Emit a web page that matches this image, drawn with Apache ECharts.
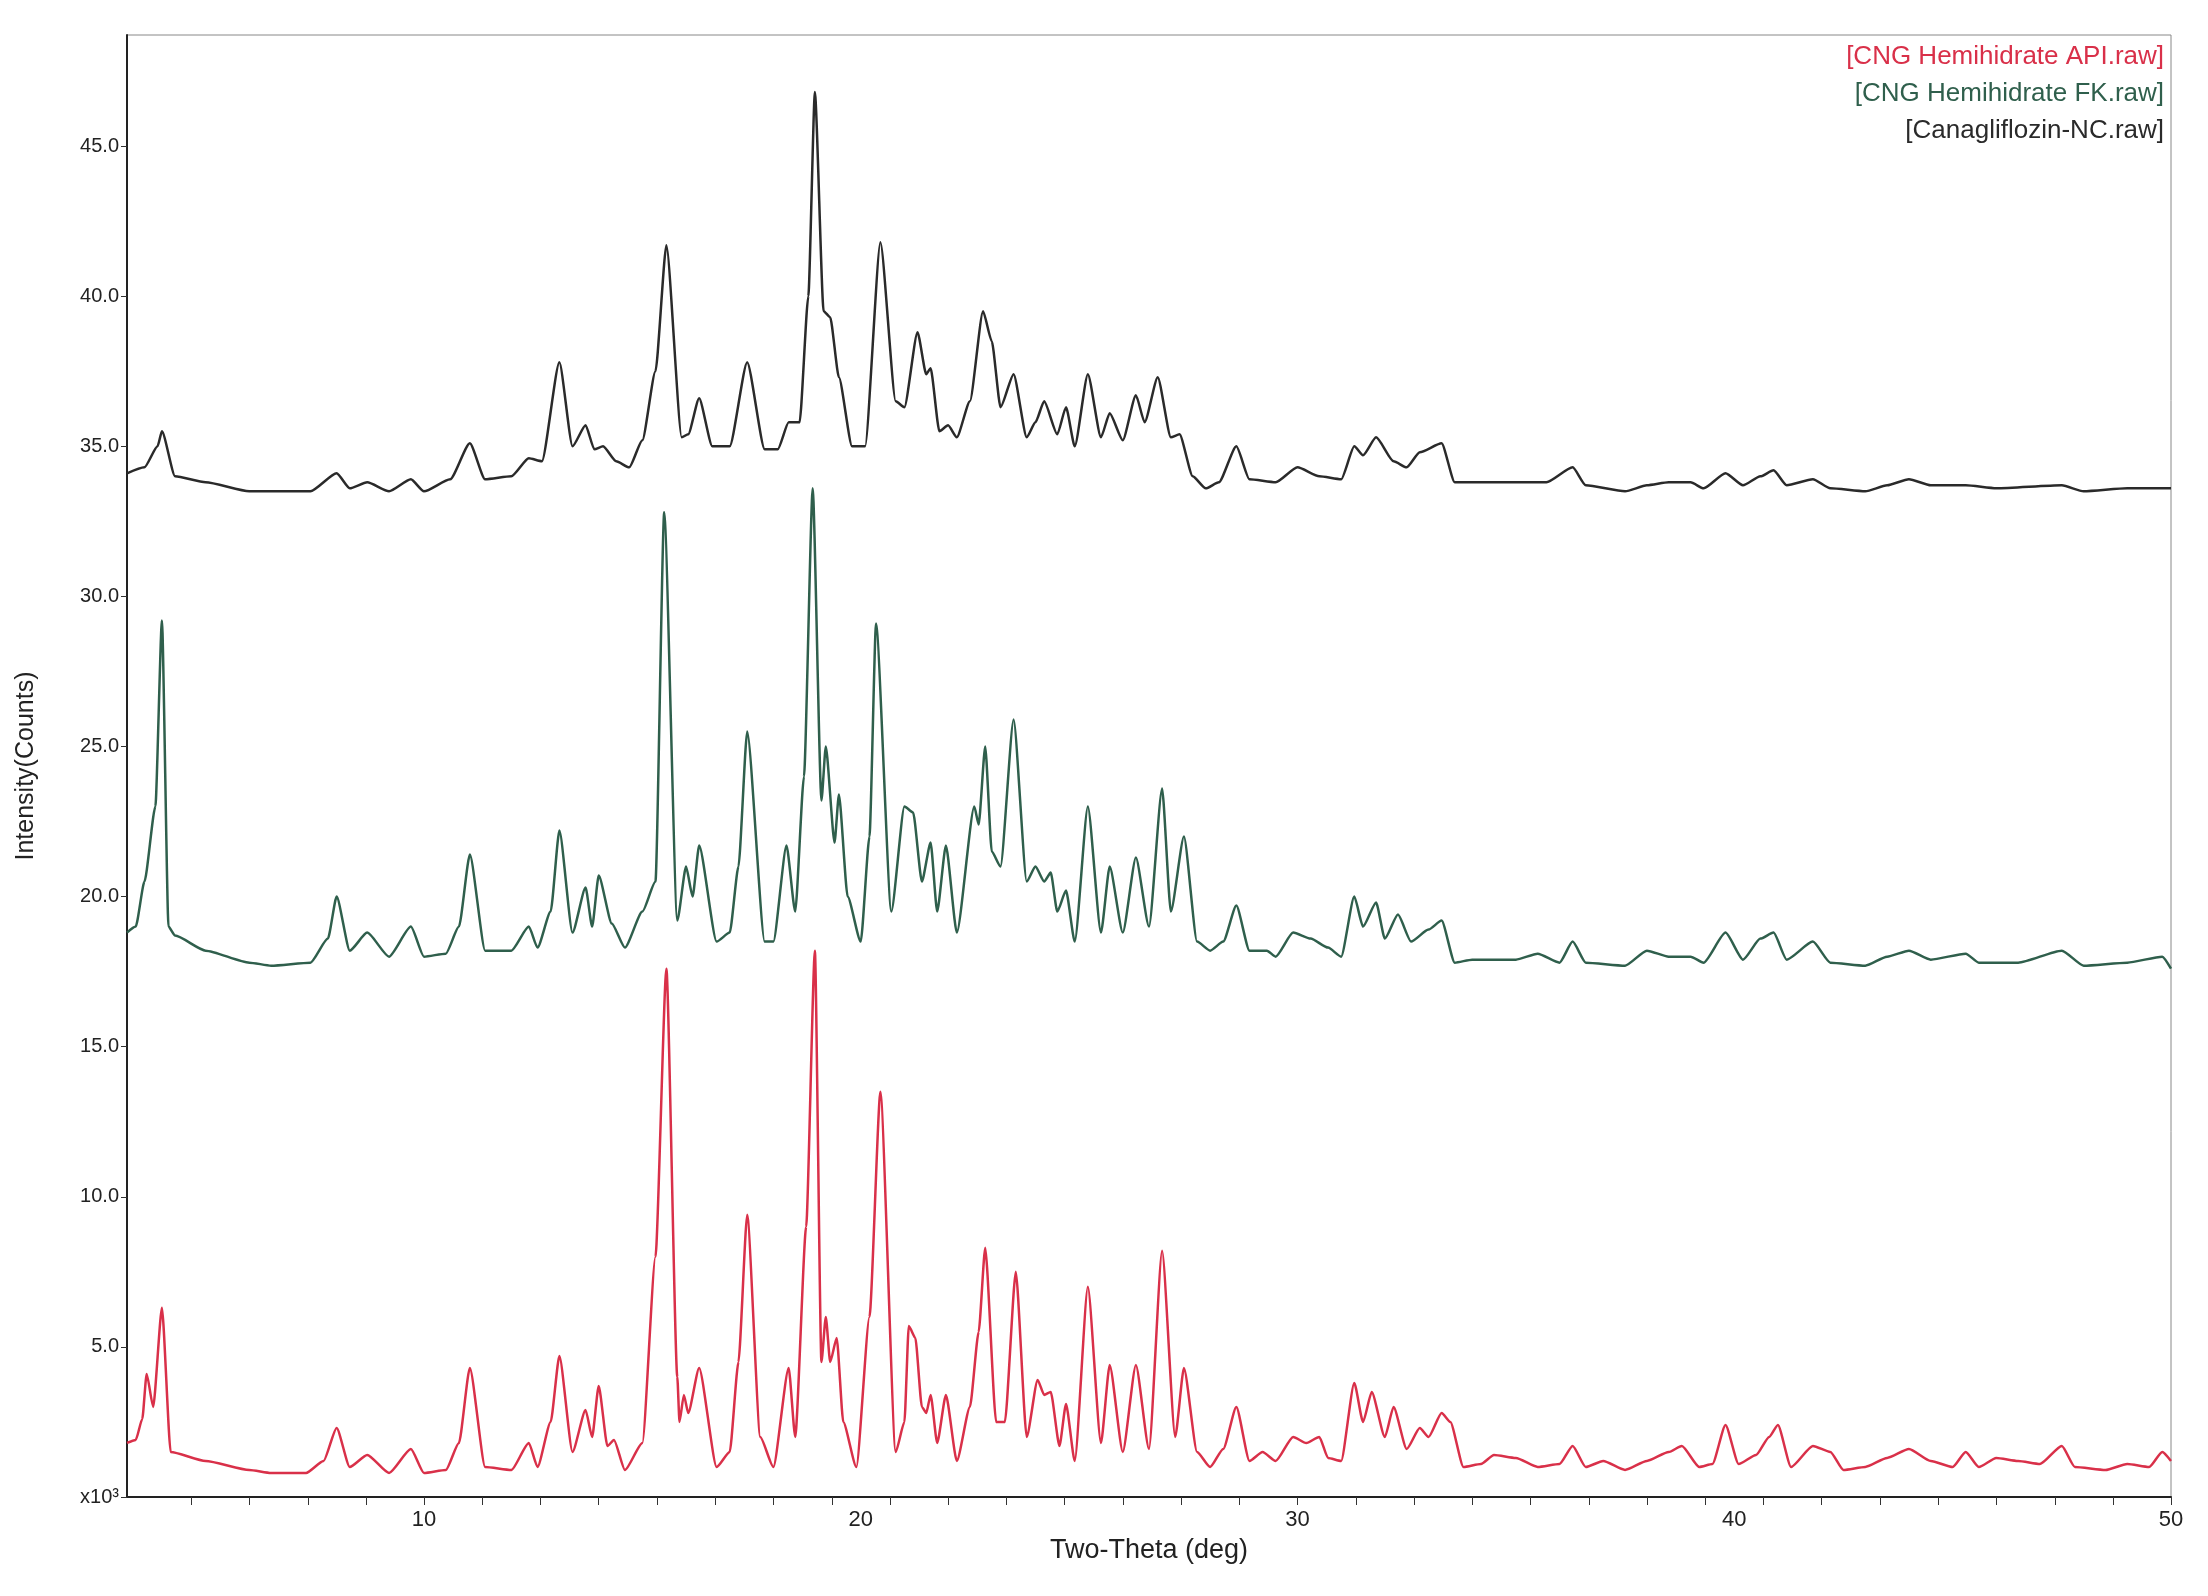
<!DOCTYPE html>
<html><head><meta charset="utf-8">
<script src="https://cdn.jsdelivr.net/npm/echarts@6/dist/echarts.min.js"></script>
<style>html,body{margin:0;padding:0;background:#fff}#c{width:2208px;height:1596px}</style>
</head><body><div id="c"></div>
<script>
const seriesNames = ['[CNG Hemihidrate API.raw]','[CNG Hemihidrate FK.raw]','[Canagliflozin-NC.raw]'];
const xTickLabels = [10,20,30,40,50];
const yTickLabels = [5,10,15,20,25,30,35,40,45];
const apiData = [[3.2,1.8],[3.4,1.9],[3.55,2.6],[3.65,4.1],[3.8,3.0],[4.0,6.3],[4.2,1.5],[5.0,1.2],[6.0,0.9],[6.5,0.8],[7.3,0.8],[7.7,1.2],[8.0,2.3],[8.3,1.0],[8.7,1.4],[9.2,0.8],[9.7,1.6],[10.0,0.8],[10.5,0.9],[10.8,1.8],[11.05,4.3],[11.4,1.0],[12.0,0.9],[12.4,1.8],[12.6,1.0],[12.9,2.5],[13.1,4.7],[13.4,1.5],[13.7,2.9],[13.85,2.0],[14.0,3.7],[14.2,1.7],[14.35,1.9],[14.6,0.9],[15.0,1.8],[15.3,8.0],[15.55,17.6],[15.8,4.0],[15.85,2.5],[15.95,3.4],[16.05,2.8],[16.3,4.3],[16.7,1.0],[17.0,1.5],[17.2,4.5],[17.4,9.4],[17.7,2.0],[18.0,1.0],[18.35,4.3],[18.5,2.0],[18.75,9.0],[18.95,18.2],[19.1,4.5],[19.2,6.0],[19.3,4.5],[19.45,5.3],[19.6,2.5],[19.9,1.0],[20.2,6.0],[20.45,13.5],[20.8,1.5],[21.0,2.5],[21.1,5.7],[21.25,5.3],[21.4,3.0],[21.5,2.8],[21.6,3.4],[21.75,1.8],[21.95,3.4],[22.2,1.2],[22.5,3.0],[22.7,5.5],[22.85,8.3],[23.1,2.5],[23.3,2.5],[23.55,7.5],[23.8,2.0],[24.05,3.9],[24.2,3.4],[24.35,3.5],[24.55,1.7],[24.7,3.1],[24.9,1.2],[25.2,7.0],[25.5,1.8],[25.7,4.4],[26.0,1.5],[26.3,4.4],[26.6,1.6],[26.9,8.2],[27.2,2.0],[27.4,4.3],[27.7,1.5],[28.0,1.0],[28.3,1.6],[28.6,3.0],[28.9,1.2],[29.2,1.5],[29.5,1.2],[29.9,2.0],[30.2,1.8],[30.5,2.0],[30.7,1.3],[31.0,1.2],[31.3,3.8],[31.5,2.5],[31.7,3.5],[32.0,2.0],[32.2,3.0],[32.5,1.6],[32.8,2.3],[33.0,2.0],[33.3,2.8],[33.5,2.5],[33.8,1.0],[34.2,1.1],[34.5,1.4],[35.0,1.3],[35.5,1.0],[36.0,1.1],[36.3,1.7],[36.6,1.0],[37.0,1.2],[37.5,0.9],[38.0,1.2],[38.5,1.5],[38.8,1.7],[39.2,1.0],[39.5,1.1],[39.8,2.4],[40.1,1.1],[40.5,1.4],[40.8,2.0],[41.0,2.4],[41.3,1.0],[41.8,1.7],[42.2,1.5],[42.5,0.9],[43.0,1.0],[43.5,1.3],[44.0,1.6],[44.5,1.2],[45.0,1.0],[45.3,1.5],[45.6,1.0],[46.0,1.3],[46.5,1.2],[47.0,1.1],[47.5,1.7],[47.8,1.0],[48.5,0.9],[49.0,1.1],[49.5,1.0],[49.8,1.5],[50,1.2]];
const fkData = [[3.2,18.8],[3.4,19.0],[3.6,20.5],[3.85,23.0],[4.0,29.2],[4.15,19.0],[4.3,18.7],[5.0,18.2],[6.0,17.8],[6.5,17.7],[7.4,17.8],[7.8,18.6],[8.0,20.0],[8.3,18.2],[8.7,18.8],[9.2,18.0],[9.7,19.0],[10.0,18.0],[10.5,18.1],[10.8,19.0],[11.05,21.4],[11.4,18.2],[12.0,18.2],[12.4,19.0],[12.6,18.3],[12.9,19.5],[13.1,22.2],[13.4,18.8],[13.7,20.3],[13.85,19.0],[14.0,20.7],[14.3,19.1],[14.6,18.3],[15.0,19.5],[15.3,20.5],[15.5,32.8],[15.8,19.2],[16.0,21.0],[16.15,20.0],[16.3,21.7],[16.7,18.5],[17.0,18.8],[17.2,21.0],[17.4,25.5],[17.8,18.5],[18.0,18.5],[18.3,21.7],[18.5,19.5],[18.7,24.0],[18.9,33.6],[19.1,23.2],[19.2,25.0],[19.4,21.8],[19.5,23.4],[19.7,20.0],[20.0,18.5],[20.2,22.0],[20.35,29.1],[20.7,19.5],[21.0,23.0],[21.2,22.8],[21.4,20.5],[21.6,21.8],[21.75,19.5],[21.95,21.7],[22.2,18.8],[22.6,23.0],[22.7,22.4],[22.85,25.0],[23.0,21.5],[23.2,21.0],[23.5,25.9],[23.8,20.5],[24.0,21.0],[24.2,20.5],[24.35,20.8],[24.5,19.5],[24.7,20.2],[24.9,18.5],[25.2,23.0],[25.5,18.8],[25.7,21.0],[26.0,18.8],[26.3,21.3],[26.6,19.0],[26.9,23.6],[27.1,19.5],[27.4,22.0],[27.7,18.5],[28.0,18.2],[28.3,18.5],[28.6,19.7],[28.9,18.2],[29.3,18.2],[29.5,18.0],[29.9,18.8],[30.3,18.6],[30.7,18.3],[31.0,18.0],[31.3,20.0],[31.5,19.0],[31.8,19.8],[32.0,18.6],[32.3,19.4],[32.6,18.5],[33.0,18.9],[33.3,19.2],[33.6,17.8],[34.0,17.9],[35.0,17.9],[35.5,18.1],[36.0,17.8],[36.3,18.5],[36.6,17.8],[37.5,17.7],[38.0,18.2],[38.5,18.0],[39.0,18.0],[39.3,17.8],[39.8,18.8],[40.2,17.9],[40.6,18.6],[40.9,18.8],[41.2,17.9],[41.8,18.5],[42.2,17.8],[43.0,17.7],[43.5,18.0],[44.0,18.2],[44.5,17.9],[45.3,18.1],[45.6,17.8],[46.5,17.8],[47.5,18.2],[48,17.7],[49,17.8],[49.8,18.0],[50,17.6]];
const ncData = [[3.2,34.1],[3.6,34.3],[3.9,35.0],[4.0,35.5],[4.3,34.0],[5.0,33.8],[6.0,33.5],[7.4,33.5],[8.0,34.1],[8.3,33.6],[8.7,33.8],[9.2,33.5],[9.7,33.9],[10.0,33.5],[10.6,33.9],[11.05,35.1],[11.4,33.9],[12.0,34.0],[12.4,34.6],[12.7,34.5],[13.1,37.8],[13.4,35.0],[13.7,35.7],[13.9,34.9],[14.1,35.0],[14.4,34.5],[14.7,34.3],[15.0,35.2],[15.3,37.5],[15.55,41.7],[15.9,35.3],[16.05,35.4],[16.3,36.6],[16.6,35.0],[17.0,35.0],[17.4,37.8],[17.8,34.9],[18.1,34.9],[18.35,35.8],[18.6,35.8],[18.8,40.0],[18.95,46.8],[19.15,39.5],[19.3,39.3],[19.5,37.3],[19.8,35.0],[20.1,35.0],[20.45,41.8],[20.8,36.5],[21.0,36.3],[21.3,38.8],[21.5,37.4],[21.6,37.6],[21.8,35.5],[22.0,35.7],[22.2,35.3],[22.5,36.5],[22.8,39.5],[23.0,38.5],[23.2,36.3],[23.5,37.4],[23.8,35.3],[24.0,35.8],[24.2,36.5],[24.5,35.4],[24.7,36.3],[24.9,35.0],[25.2,37.4],[25.5,35.3],[25.7,36.1],[26.0,35.2],[26.3,36.7],[26.5,35.8],[26.8,37.3],[27.1,35.3],[27.3,35.4],[27.6,34.0],[27.9,33.6],[28.2,33.8],[28.6,35.0],[28.9,33.9],[29.5,33.8],[30.0,34.3],[30.5,34.0],[31.0,33.9],[31.3,35.0],[31.5,34.7],[31.8,35.3],[32.2,34.5],[32.5,34.3],[32.8,34.8],[33.3,35.1],[33.6,33.8],[34.0,33.8],[35.0,33.8],[35.7,33.8],[36.3,34.3],[36.6,33.7],[37.5,33.5],[38.0,33.7],[38.5,33.8],[39.0,33.8],[39.3,33.6],[39.8,34.1],[40.2,33.7],[40.6,34.0],[40.9,34.2],[41.2,33.7],[41.8,33.9],[42.2,33.6],[43.0,33.5],[43.5,33.7],[44.0,33.9],[44.5,33.7],[45.3,33.7],[46.0,33.6],[47.5,33.7],[48,33.5],[49,33.6],[50,33.6]];
const colors = ['#d93049','#2f5f4c','#2a2a2a'];
const minorTicks = [];
for (let v = 4.67; v <= 50.01; v += 10/7.5) minorTicks.push(+v.toFixed(2));

const chart = echarts.init(document.getElementById('c'));
const font = 'Liberation Sans, Arial, sans-serif';
const line = (i, d) => ({name:seriesNames[i],type:'line',data:d,showSymbol:false,smooth:0.2,smoothMonotone:'x',
  lineStyle:{color:colors[i],width:2.5}});
chart.setOption({
  animation:false,
  backgroundColor:'#fff',
  grid:{left:127,right:37,top:35,bottom:99,show:true,borderColor:'#888',borderWidth:1},
  xAxis:{type:'value',min:3.2,max:50,
    name:'Two-Theta (deg)',nameLocation:'middle',nameGap:40,
    nameTextStyle:{fontFamily:font,fontSize:27,color:'#222'},
    axisLine:{lineStyle:{color:'#222',width:2}},
    axisTick:{customValues:minorTicks,length:8,lineStyle:{color:'#333'}},
    axisLabel:{customValues:xTickLabels,fontFamily:font,fontSize:22,color:'#222',margin:12},
    splitLine:{show:false}},
  yAxis:{type:'value',min:0,max:48.7,interval:5,
    name:'Intensity(Counts)',nameLocation:'middle',nameGap:88,
    nameTextStyle:{fontFamily:font,fontSize:25,color:'#222'},
    axisLine:{show:true,lineStyle:{color:'#222',width:2}},
    axisTick:{show:true,length:6,lineStyle:{color:'#333'}},
    axisLabel:{fontFamily:font,fontSize:20,color:'#222',showMaxLabel:false,
      formatter:v=>v===0?'x10³':v.toFixed(1)},
    splitLine:{show:false}},
  series:[line(0,apiData),line(1,fkData),line(2,ncData)],
  graphic: seriesNames.map((n,i)=>({type:'text',right:44,top:44+i*37,
    style:{text:n,fill:colors[i],font:'26px '+font,textAlign:'right'}}))
});
</script></body></html>
